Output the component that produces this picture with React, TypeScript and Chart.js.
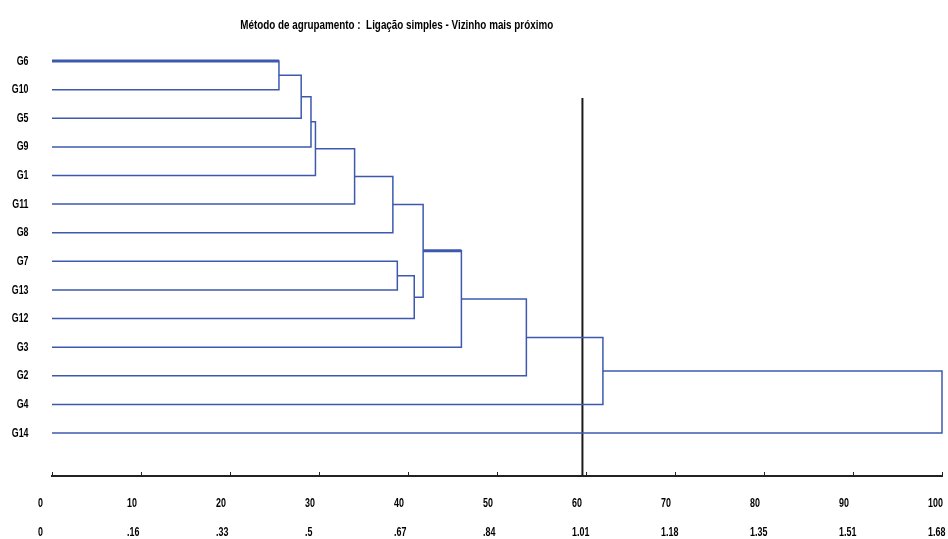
import React, { useEffect, useRef } from 'react';
import { Chart, registerables } from 'chart.js';

Chart.register(...registerables);

// ---- data ----
const leafNames = ['G6', 'G10', 'G5', 'G9', 'G1', 'G11', 'G8', 'G7', 'G13', 'G12', 'G3', 'G2', 'G4', 'G14'];
// merges: ids 0..13 are leaves, each merge k creates cluster id 14 + k
const mergeLeft = [0, 14, 15, 16, 17, 18, 7, 20, 19, 22, 23, 24, 25];
const mergeRight = [1, 2, 3, 4, 5, 6, 8, 9, 21, 10, 11, 12, 13];
const mergeHeight = [25.5, 28.0, 29.1, 29.6, 34.0, 38.3, 38.8, 40.7, 41.7, 46.0, 53.3, 61.9, 100];
const boldLegs = [0, 9];
const tickValues = [0, 10, 20, 30, 40, 50, 60, 70, 80, 90, 100];
const percentTicks = ['0', '10', '20', '30', '40', '50', '60', '70', '80', '90', '100'];
const distanceTicks = ['0', '.16', '.33', '.5', '.67', '.84', '1.01', '1.18', '1.35', '1.51', '1.68'];
const cutLevel = 59.6;
const cutTop = 2.29;
const titleText = 'Método de agrupamento :  Ligação simples - Vizinho mais próximo';

const FONT_FAMILY = '"Liberation Sans", Arial, sans-serif';
const LINE_COLOR = '#3D59AE';

function drawNarrowText(
  ctx: CanvasRenderingContext2D,
  text: string,
  x: number,
  y: number,
  size: number,
  sx: number,
  align: CanvasTextAlign,
) {
  ctx.save();
  ctx.translate(x, y);
  ctx.scale(sx, 1);
  ctx.font = `bold ${size}px ${FONT_FAMILY}`;
  ctx.textAlign = align;
  ctx.textBaseline = 'middle';
  ctx.fillStyle = '#000';
  ctx.fillText(text, 0, 0);
  ctx.restore();
}

export default function App() {
  const canvasRef = useRef<HTMLCanvasElement | null>(null);

  useEffect(() => {
    const canvas = canvasRef.current;
    if (!canvas) return;

    const nodeX: number[] = leafNames.map(() => 0);
    const nodeY: number[] = leafNames.map((_, i) => i + 1);
    const datasets: any[] = [];
    mergeHeight.forEach((h, k) => {
      const a = mergeLeft[k];
      const b = mergeRight[k];
      const pts = [
        { x: nodeX[a], y: nodeY[a] },
        { x: h, y: nodeY[a] },
        { x: h, y: nodeY[b] },
        { x: nodeX[b], y: nodeY[b] },
      ];
      datasets.push({
        data: pts,
        showLine: true,
        borderColor: LINE_COLOR,
        borderWidth: 1.5,
        pointRadius: 0,
        fill: false,
        clip: 4,
      });
      if (boldLegs.includes(k)) {
        datasets.push({
          data: pts.slice(0, 2),
          showLine: true,
          borderColor: LINE_COLOR,
          borderWidth: 3,
          pointRadius: 0,
          fill: false,
          clip: 4,
        });
      }
      nodeX.push(h);
      nodeY.push((nodeY[a] + nodeY[b]) / 2);
    });

    datasets.push({
      data: [
        { x: cutLevel, y: cutTop },
        { x: cutLevel, y: 15.5 },
      ],
      showLine: true,
      borderColor: '#1a1a1a',
      borderWidth: 2,
      pointRadius: 0,
      fill: false,
      clip: 4,
    });

    const decor = {
      id: 'decor',
      afterDraw(chart: any) {
        const ctx: CanvasRenderingContext2D = chart.ctx;
        const xs = chart.scales.x;
        const ys = chart.scales.y;
        const bottom = chart.chartArea.bottom;
        ctx.save();
        // small upward tick marks
        ctx.strokeStyle = '#222';
        ctx.lineWidth = 1;
        tickValues.forEach((v) => {
          const px = Math.round(xs.getPixelForValue(v)) + 0.5;
          ctx.beginPath();
          ctx.moveTo(px, bottom);
          ctx.lineTo(px, bottom - 4);
          ctx.stroke();
        });
        // x tick labels (two rows)
        tickValues.forEach((v, i) => {
          const px = xs.getPixelForValue(v) - 14;
          drawNarrowText(ctx, percentTicks[i], px, bottom + 27.5, 13.5, 0.66, 'left');
          drawNarrowText(ctx, distanceTicks[i], px, bottom + 56, 13.5, 0.66, 'left');
        });
        // leaf labels
        leafNames.forEach((name, i) => {
          drawNarrowText(ctx, name, 28.5, ys.getPixelForValue(i + 1), 13, 0.68, 'right');
        });
        // title
        ctx.font = `bold 12px ${FONT_FAMILY}`;
        const w = ctx.measureText(titleText).width;
        drawNarrowText(ctx, titleText, 396.7, 25.7, 12, 313 / w, 'center');
        ctx.restore();
      },
    };

    const chart = new Chart(canvas, {
      type: 'scatter',
      data: { datasets },
      options: {
        animation: false,
        responsive: false,
        devicePixelRatio: 1,
        layout: { padding: { top: 32.4, right: 6, left: 52, bottom: 0 } },
        plugins: {
          legend: { display: false },
          tooltip: { enabled: false },
          title: { display: false },
        },
        scales: {
          x: {
            type: 'linear',
            position: 'bottom',
            min: 0,
            max: 100,
            afterFit: (scale: any) => {
              scale.height = 63;
              scale.paddingLeft = 0;
              scale.paddingRight = 0;
            },
            border: { display: true, color: '#222', width: 2 },
            grid: { display: true, drawOnChartArea: false, drawTicks: false },
            ticks: { display: false, stepSize: 10 },
          },
          y: {
            type: 'linear',
            reverse: true,
            min: 0,
            max: 15.5,
            display: false,
          },
        },
      },
      plugins: [decor],
    });

    return () => {
      chart.destroy();
    };
  }, []);

  return (
    <div style={{ position: 'absolute', left: 0, top: 0, width: 948, height: 539, background: '#fff' }}>
      <canvas ref={canvasRef} width={948} height={539} style={{ display: 'block' }} />
    </div>
  );
}
